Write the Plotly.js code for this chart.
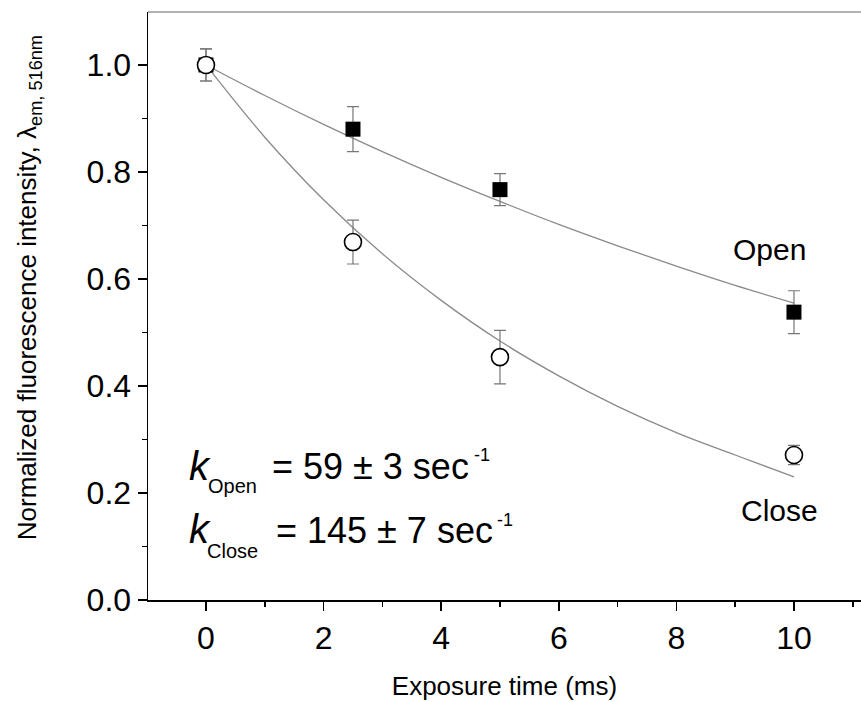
<!DOCTYPE html>
<html>
<head>
<meta charset="utf-8">
<script src="https://cdn.plot.ly/plotly-3.0.1.min.js"></script>
<style>html,body{margin:0;padding:0;background:#fff;}#chart{width:861px;height:702px;}</style>
</head>
<body>
<div id="chart"></div>
<script>
// Data
var timeMs = [0, 2.5, 5, 10];
var openY = [1.0, 0.880, 0.767, 0.538];
var openErr = [0.03, 0.042, 0.030, 0.040];
var closeY = [1.0, 0.669, 0.454, 0.271];
var closeErr = [0.03, 0.041, 0.050, 0.018];

// Fitted curves
var fitX = [0, 1, 2, 3, 4, 5, 6, 7, 8, 9, 10];
var openFit = [1.0, 0.943, 0.889, 0.838, 0.790, 0.745, 0.702, 0.662, 0.624, 0.588, 0.555];
var closeFit = [1.0, 0.865, 0.748, 0.647, 0.560, 0.484, 0.419, 0.362, 0.313, 0.271, 0.230];

var xTicks = [0, 2, 4, 6, 8, 10];
var yTicks = [0.0, 0.2, 0.4, 0.6, 0.8, 1.0];

var FONT = 'Liberation Sans, Arial, sans-serif';

var traces = [
  {x: fitX, y: openFit, mode: 'lines', line: {color: '#8a8a8a', width: 1.3, shape: 'spline'}, hoverinfo: 'skip'},
  {x: fitX, y: closeFit, mode: 'lines', line: {color: '#8a8a8a', width: 1.3, shape: 'spline'}, hoverinfo: 'skip'},
  {x: timeMs, y: openY, mode: 'markers',
   error_y: {type: 'data', array: openErr, visible: true, color: '#777', thickness: 1.2, width: 6},
   marker: {symbol: 'square', size: 15, color: '#000'}},
  {x: timeMs, y: closeY, mode: 'markers',
   error_y: {type: 'data', array: closeErr, visible: true, color: '#777', thickness: 1.2, width: 6},
   marker: {symbol: 'circle', size: 17, color: '#fff', line: {width: 1.6, color: '#000'}}}
];

function ann(x, y, text, size, extra) {
  var a = {x: x, y: y, xref: 'x', yref: 'y', text: text, showarrow: false,
           xanchor: 'left', yanchor: 'middle', font: {size: size, family: FONT, color: '#000'}};
  for (var k in (extra || {})) a[k] = extra[k];
  return a;
}

var layout = {
  width: 861, height: 702,
  margin: {l: 148, r: 0, t: 12, b: 102},
  paper_bgcolor: '#fff', plot_bgcolor: '#fff',
  showlegend: false,
  font: {family: FONT, color: '#000'},
  xaxis: {
    range: [-0.986, 11.14], showgrid: false, zeroline: false,
    showline: true, linecolor: '#000', linewidth: 1.5,
    tickmode: 'array', tickvals: xTicks, ticktext: xTicks.map(String),
    ticks: 'outside', ticklen: 9, tickwidth: 1.5, tickcolor: '#000',
    minor: {dtick: 1, tick0: 0, ticks: 'outside', ticklen: 5, tickwidth: 1.5, tickcolor: '#000'},
    tickfont: {size: 32, family: FONT},
    title: {text: 'Exposure time (ms)', font: {size: 26, family: FONT}, standoff: 22}
  },
  yaxis: {
    range: [0, 1.099], showgrid: false, zeroline: false,
    showline: true, linecolor: '#000', linewidth: 1.5,
    tickmode: 'array', tickvals: yTicks, ticktext: yTicks.map(function(v){return v.toFixed(1);}),
    ticks: 'outside', ticklen: 9, tickwidth: 1.5, tickcolor: '#000',
    minor: {dtick: 0.1, tick0: 0, ticks: 'outside', ticklen: 5, tickwidth: 1.5, tickcolor: '#000'},
    tickfont: {size: 32, family: FONT}
  },
  shapes: [
    {type: 'line', xref: 'paper', yref: 'paper', x0: 0, x1: 1, y0: 1, y1: 1, line: {color: '#999', width: 1.5}}
  ],
  annotations: [
    {x: -0.168, y: 0.5306, xref: 'paper', yref: 'paper', textangle: -90, showarrow: false,
     xanchor: 'center', yanchor: 'middle',
     text: 'Normalized fluorescence intensity, λ<sub>em, 516nm</sub>', font: {size: 26, family: FONT, color: '#000'}},
    ann(9.59, 0.656, 'Open', 30, {xanchor: 'center'}),
    ann(9.76, 0.168, 'Close', 30, {xanchor: 'center'}),
    // k_Open line
    ann(-0.323, 0.2512, '<i>k</i>', 40),
    ann(0.0, 0.2135, 'Open', 20),
    ann(1.088, 0.2486, '= 59 ± 3 sec', 36),
    ann(4.524, 0.2710, '-1', 18),
    // k_Close line
    ann(-0.323, 0.1335, '<i>k</i>', 40),
    ann(-0.017, 0.0920, 'Close', 20),
    ann(1.156, 0.1308, '= 145 ± 7 sec', 36),
    ann(4.915, 0.1495, '-1', 18)
  ]
};

Plotly.newPlot('chart', traces, layout, {displayModeBar: false, staticPlot: true});
</script>
</body>
</html>
